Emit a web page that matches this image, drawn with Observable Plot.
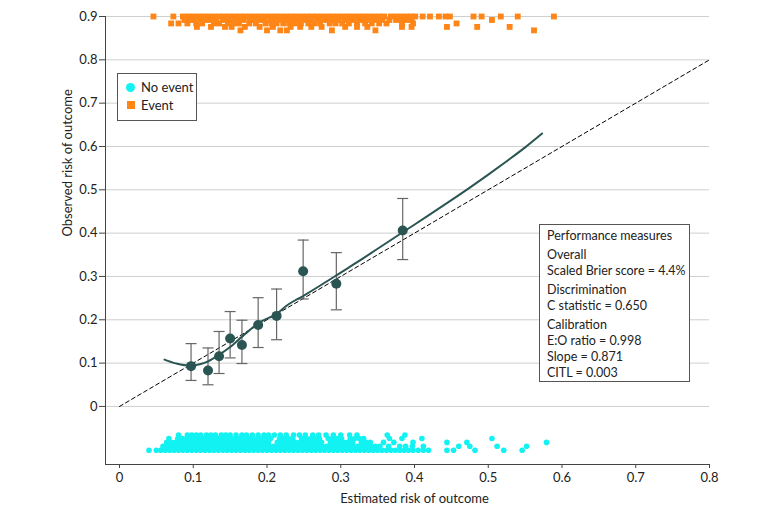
<!DOCTYPE html>
<html><head><meta charset="utf-8">
<script src="https://cdn.jsdelivr.net/npm/d3@7"></script>
<script src="https://cdn.jsdelivr.net/npm/@observablehq/plot@0.6"></script>
<style>
body{margin:0;background:#fff;font-family:Lato, sans-serif;color:#222;}
#wrap{position:relative;width:780px;height:526px;}
.legend{position:absolute;left:117px;top:73px;width:78px;height:42px;border:1px solid #555;background:#fff;font-size:13px;padding-top:4px;box-sizing:content-box;}
.legend .row{display:flex;align-items:center;height:18px;}
.legend .sym{margin-left:8px;margin-right:6px;}
.perf{position:absolute;left:539px;top:224px;width:151px;height:158px;border:1px solid #555;background:#fff;font-size:12.5px;padding:3px 0 0 7px;box-sizing:border-box;}
.perf div{line-height:16px;white-space:nowrap;}
.perf .g{margin-top:3px;}
</style></head>
<body><div id="wrap"></div>
<script>
// ---- data ----
const xTicks = [0, 0.1, 0.2, 0.3, 0.4, 0.5, 0.6, 0.7, 0.8];
const yTicks = [0, 0.1, 0.2, 0.3, 0.4, 0.5, 0.6, 0.7, 0.8, 0.9];
const xDomain = [-0.019, 0.8];
const yDomain = [-0.134, 0.9];
const diagonal = [0, 0.8];

const binX  = [0.097, 0.120, 0.135, 0.150, 0.166, 0.188, 0.213, 0.249, 0.294, 0.384];
const binY  = [0.093, 0.083, 0.116, 0.157, 0.142, 0.188, 0.209, 0.312, 0.283, 0.406];
const binLo = [0.060, 0.050, 0.076, 0.112, 0.099, 0.136, 0.154, 0.248, 0.223, 0.339];
const binHi = [0.145, 0.135, 0.173, 0.219, 0.199, 0.251, 0.271, 0.384, 0.355, 0.480];

const curveX = [0.061,0.075,0.090,0.100,0.110,0.120,0.134,0.150,0.168,0.191,0.213,0.227,0.250,0.275,0.300,0.326,0.350,0.384,0.420,0.450,0.475,0.500,0.525,0.550,0.573];
const curveY = [0.108,0.100,0.095,0.095,0.098,0.104,0.118,0.137,0.164,0.195,0.214,0.233,0.256,0.282,0.309,0.337,0.364,0.402,0.442,0.476,0.505,0.535,0.566,0.598,0.630];

// Event rug (orange squares), rows at jittered heights
const eventRowY = [0.900, 0.892, 0.884, 0.876, 0.868];
const eventRow0 = [0.046,0.073,0.086,0.093,0.100,0.107,0.114,0.121,0.128,0.135,0.142,0.149,0.156,0.163,0.170,0.177,0.184,0.191,0.198,0.205,0.212,0.219,0.226,0.233,0.240,0.247,0.254,0.261,0.268,0.275,0.282,0.289,0.296,0.303,0.310,0.317,0.324,0.331,0.338,0.345,0.352,0.359,0.368,0.375,0.382,0.389,0.396,0.401,0.411,0.421,0.433,0.442,0.448,0.480,0.491,0.517,0.540,0.589];
const eventRow1 = [0.088,0.095,0.102,0.110,0.117,0.124,0.131,0.140,0.147,0.154,0.161,0.168,0.176,0.183,0.190,0.197,0.205,0.212,0.219,0.226,0.233,0.240,0.247,0.254,0.261,0.269,0.276,0.283,0.290,0.297,0.305,0.312,0.319,0.326,0.333,0.341,0.348,0.356,0.366,0.375,0.382,0.389,0.396,0.505];
const eventRow2 = [0.070,0.080,0.092,0.104,0.112,0.128,0.135,0.147,0.155,0.162,0.176,0.185,0.198,0.206,0.213,0.222,0.230,0.238,0.246,0.256,0.264,0.272,0.285,0.293,0.302,0.311,0.322,0.333,0.342,0.352,0.362,0.383,0.398,0.457];
const eventRow3 = [0.105,0.124,0.143,0.152,0.170,0.190,0.208,0.232,0.245,0.260,0.274,0.306,0.322,0.336,0.383,0.396,0.444,0.485,0.529];
const eventRow4 = [0.164,0.200,0.218,0.227,0.288,0.347,0.562];

// No-event rug (cyan dots)
const noEventRowY = [-0.101, -0.092, -0.083, -0.074, -0.066];
const noEventRow0 = [0.040,0.050,0.056,0.062,0.068,0.074,0.080,0.086,0.092,0.098,0.104,0.110,0.116,0.122,0.128,0.134,0.140,0.146,0.152,0.158,0.164,0.170,0.176,0.182,0.188,0.194,0.200,0.206,0.212,0.218,0.224,0.230,0.236,0.242,0.248,0.254,0.260,0.266,0.272,0.278,0.284,0.290,0.296,0.302,0.308,0.314,0.320,0.326,0.332,0.338,0.344,0.350,0.356,0.362,0.368,0.374,0.380,0.386,0.392,0.398,0.405,0.412,0.419,0.444,0.453,0.482,0.521,0.546];
const noEventRow1 = [0.059,0.065,0.071,0.077,0.083,0.089,0.095,0.101,0.107,0.113,0.119,0.125,0.131,0.137,0.143,0.149,0.155,0.161,0.167,0.173,0.179,0.185,0.191,0.197,0.203,0.209,0.215,0.221,0.227,0.233,0.239,0.245,0.251,0.257,0.263,0.269,0.275,0.281,0.287,0.293,0.299,0.305,0.311,0.317,0.323,0.329,0.335,0.341,0.347,0.353,0.365,0.380,0.388,0.397,0.412,0.460,0.475,0.512,0.552];
const noEventRow2 = [0.064,0.070,0.076,0.082,0.088,0.094,0.100,0.106,0.112,0.118,0.124,0.130,0.136,0.142,0.148,0.154,0.160,0.166,0.172,0.178,0.184,0.190,0.196,0.202,0.214,0.220,0.226,0.232,0.238,0.244,0.250,0.256,0.262,0.268,0.274,0.286,0.292,0.298,0.304,0.310,0.316,0.328,0.334,0.340,0.358,0.372,0.398,0.444,0.471,0.579];
const noEventRow3 = [0.067,0.079,0.085,0.091,0.097,0.103,0.109,0.115,0.121,0.127,0.133,0.139,0.145,0.151,0.157,0.163,0.169,0.175,0.181,0.187,0.193,0.199,0.205,0.217,0.223,0.229,0.235,0.247,0.253,0.259,0.265,0.271,0.283,0.289,0.295,0.301,0.313,0.319,0.325,0.331,0.366,0.383,0.410,0.505];
const noEventRow4 = [0.080,0.092,0.098,0.104,0.110,0.118,0.124,0.130,0.138,0.144,0.150,0.158,0.166,0.172,0.180,0.188,0.196,0.202,0.210,0.218,0.226,0.236,0.244,0.252,0.262,0.270,0.280,0.290,0.300,0.312,0.322,0.363,0.387];

const legendLabels = ["No event", "Event"];
const perfLines = [["Performance measures"], ["Overall", "Scaled Brier score = 4.4%"], ["Discrimination", "C statistic = 0.650"], ["Calibration", "E:O ratio = 0.998", "Slope = 0.871", "CITL = 0.003"]];
const xTitle = "Estimated risk of outcome";
const yTitle = "Observed risk of outcome";

// ---- build ----
const teal = "#2b5552", cyan = "#12f2f2", orange = "#ff8616";
const events = [eventRow0, eventRow1, eventRow2, eventRow3, eventRow4].flatMap((row, i) => row.map(x => ({x, y: eventRowY[i]})));
const noEvents = [noEventRow0, noEventRow1, noEventRow2, noEventRow3, noEventRow4].flatMap((row, i) => row.map(x => ({x, y: noEventRowY[i]})));
const bins = binX.map((x, i) => ({x, y: binY[i], lo: binLo[i], hi: binHi[i]}));
const curve = curveX.map((x, i) => ({x, y: curveY[i]}));
const fmt = d => String(+d.toFixed(1));
const capSymbol = {draw(ctx, size) { const w = Math.sqrt(size / Math.PI); ctx.moveTo(-w, 0); ctx.lineTo(w, 0); }};

const chart = Plot.plot({
  width: 780, height: 526,
  marginTop: 16, marginRight: 71, marginBottom: 62, marginLeft: 105,
  style: {fontFamily: "Lato, sans-serif", fontSize: "13px", color: "#222", background: "#fff"},
  x: {domain: xDomain, label: null},
  y: {domain: yDomain, label: null},
  marks: [
    Plot.gridY(yTicks, {stroke: "#cfcfcf", strokeOpacity: 1}),
    Plot.ruleX([xDomain[0]], {stroke: "#444"}),
    Plot.ruleY([yDomain[0]], {stroke: "#444"}),
    Plot.axisY(yTicks, {tickSize: 6, tickPadding: 2, tickFormat: fmt, label: null, stroke: "#444", fontSize: 13}),
    Plot.axisX(xTicks, {tickSize: 4, tickPadding: 4, tickFormat: fmt, label: null, stroke: "#444", fontSize: 13}),
    Plot.text([xTitle], {x: () => 0.4, frameAnchor: "bottom", dy: 38, text: d => d, fontSize: 13}),
    Plot.text([yTitle], {frameAnchor: "left", dx: -38, dy: -4, rotate: -90, text: d => d, fontSize: 13}),
    Plot.dot(noEvents, {x: "x", y: "y", r: 2.8, fill: cyan, stroke: "none"}),
    Plot.dot(events, {x: "x", y: "y", r: 3.3, symbol: "square", fill: orange, stroke: "none"}),
    Plot.line(diagonal, {x: d => d, y: d => d, stroke: "#000", strokeWidth: 1, strokeDasharray: "4,3"}),
    Plot.ruleX(bins, {x: "x", y1: "lo", y2: "hi", stroke: "#666", strokeWidth: 1.2}),
    Plot.dot(bins, {x: "x", y: "lo", symbol: capSymbol, r: 5.5, stroke: "#666", fill: "none", strokeWidth: 1.2}),
    Plot.dot(bins, {x: "x", y: "hi", symbol: capSymbol, r: 5.5, stroke: "#666", fill: "none", strokeWidth: 1.2}),
    Plot.line(curve, {x: "x", y: "y", curve: "monotone-x", stroke: teal, strokeWidth: 2}),
    Plot.dot(bins, {x: "x", y: "y", r: 5, fill: teal, stroke: "none"})
  ]
});
const wrap = document.getElementById("wrap");
wrap.appendChild(chart);

// legend (overlay inside plot)
const leg = document.createElement("div");
leg.className = "legend";
legendLabels.forEach((lab, i) => {
  const row = document.createElement("div"); row.className = "row";
  const s = document.createElement("span"); s.className = "sym";
  s.style.display = "inline-block";
  if (i === 0) { s.style.width = "9px"; s.style.height = "9px"; s.style.borderRadius = "50%"; s.style.background = cyan; }
  else { s.style.width = "8px"; s.style.height = "8px"; s.style.background = orange; s.style.marginLeft = "8.5px"; s.style.marginRight = "6.5px"; }
  const t = document.createElement("span"); t.textContent = lab;
  row.appendChild(s); row.appendChild(t); leg.appendChild(row);
});
wrap.appendChild(leg);

// performance measures box
const perf = document.createElement("div");
perf.className = "perf";
perfLines.forEach((group, gi) => {
  const g = document.createElement("div");
  if (gi > 0) g.className = "g";
  group.forEach(line => { const d = document.createElement("div"); d.textContent = line; g.appendChild(d); });
  perf.appendChild(g);
});
wrap.appendChild(perf);
</script>
</body></html>
